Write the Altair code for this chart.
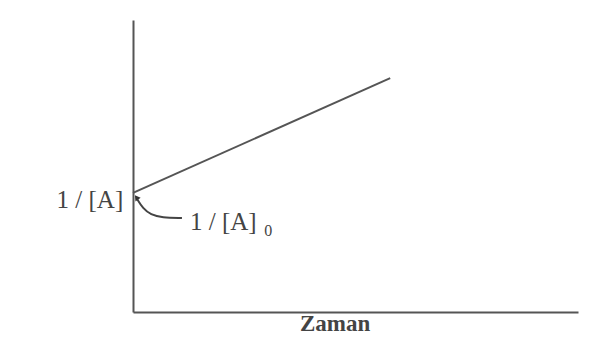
import altair as alt
import pandas as pd

# main line (1/[A] vs time)
line_x = [0.0, 5.78]
line_y = [4.08, 8.01]

# curved pointer from label to intercept
arrow_x = [0.10, 0.22, 0.40, 0.65, 1.10]
arrow_y = [3.85, 3.55, 3.33, 3.23, 3.22]
head_x = [0.09]
head_y = [3.90]

# text labels
lab_text = ["1 / [A]", "1 / [A]", "0", "Zaman"]
lab_x = [-0.22, 1.28, 2.95, 4.54]
lab_y = [3.84, 3.08, 2.77, -0.82]
lab_align = ["right", "left", "left", "center"]
lab_base = ["middle", "middle", "middle", "bottom"]
lab_size = [25, 25, 16, 23]
lab_weight = ["normal", "normal", "normal", "bold"]

line_df = pd.DataFrame({"x": line_x, "y": line_y})
arrow_df = pd.DataFrame({"x": arrow_x, "y": arrow_y, "o": list(range(len(arrow_x)))})
head_df = pd.DataFrame({"x": head_x, "y": head_y})
lab_df = pd.DataFrame({"t": lab_text, "x": lab_x, "y": lab_y})

xs = alt.Scale(domain=[0, 10], nice=False, zero=False)
ys = alt.Scale(domain=[0, 10], nice=False, zero=False)
xax = alt.Axis(labels=False, ticks=False, grid=False, title=None,
               domainColor="#555555", domainWidth=2)
yax = alt.Axis(labels=False, ticks=False, grid=False, title=None,
               domainColor="#555555", domainWidth=2)

base_line = alt.Chart(line_df).mark_line(color="#555555", strokeWidth=2).encode(
    x=alt.X("x:Q", scale=xs, axis=xax),
    y=alt.Y("y:Q", scale=ys, axis=yax),
)

arrow = alt.Chart(arrow_df).mark_line(color="#444444", strokeWidth=2, interpolate="basis").encode(
    x=alt.X("x:Q", scale=xs),
    y=alt.Y("y:Q", scale=ys),
    order="o:Q",
)

head = alt.Chart(head_df).mark_point(shape="triangle", filled=True, color="#333333",
                                     size=40, angle=325, opacity=1).encode(
    x=alt.X("x:Q", scale=xs),
    y=alt.Y("y:Q", scale=ys),
)

texts = []
for i in range(len(lab_text)):
    sub = lab_df.iloc[[i]]
    texts.append(
        alt.Chart(sub).mark_text(font="Liberation Serif", fontSize=lab_size[i],
                                 fontWeight=lab_weight[i],
                                 align=lab_align[i], baseline=lab_base[i],
                                 color="#444444").encode(
            x=alt.X("x:Q", scale=xs),
            y=alt.Y("y:Q", scale=ys),
            text="t:N",
        )
    )

chart = alt.layer(base_line, arrow, head, *texts).properties(
    width=445, height=292,
    autosize=alt.AutoSizeParams(type="none"),
    padding={"left": 125, "top": 12, "right": 14, "bottom": 24},
    background="#ffffff",
).configure_view(stroke=None)

chart.save("out.html", embed_options={"renderer": "svg", "actions": False})
